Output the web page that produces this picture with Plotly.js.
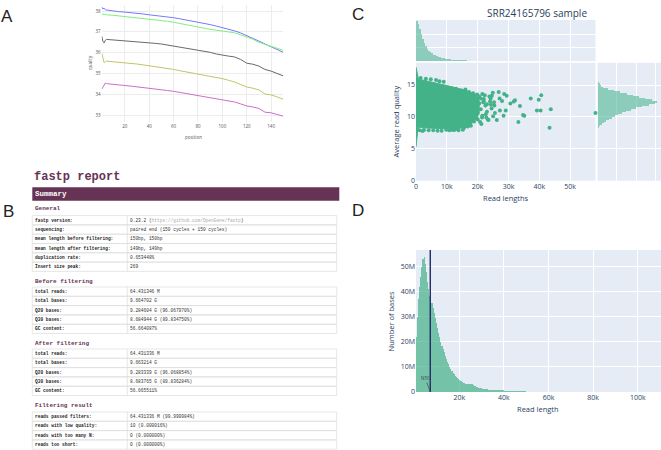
<!DOCTYPE html>
<html><head><meta charset="utf-8">
<script src="https://cdn.plot.ly/plotly-3.0.1.min.js"></script>
<style>html,body{margin:0;padding:0;background:#fff}#chart{width:661px;height:450px}</style>
</head><body><div id="chart"></div>
<script>
// ---------- Panel A : per-position quality ----------
const positions = [1,2,3,4,5,10,15,20,25,30,35,40,45,50,55,60,65,70,75,80,85,90,95,100,105,110,115,120,125,130,135,140,145,150];
const qualG = [38.2,38.1,38.14,38.06,38.05,38.0,37.97,37.95,37.93,37.9,37.86,37.82,37.79,37.76,37.72,37.68,37.63,37.58,37.53,37.47,37.41,37.35,37.28,37.21,37.13,37.05,36.95,36.83,36.7,36.56,36.42,36.28,36.15,36.02];
const qualC = [37.88,37.84,37.85,37.83,37.82,37.8,37.77,37.74,37.72,37.69,37.66,37.62,37.59,37.55,37.51,37.46,37.41,37.36,37.3,37.23,37.18,37.12,37.07,37.04,37.0,36.96,36.86,36.75,36.65,36.5,36.4,36.3,36.2,36.12];
const qualMean = [36.8,36.55,36.47,36.6,36.64,36.62,36.6,36.58,36.55,36.53,36.5,36.48,36.45,36.42,36.37,36.3,36.25,36.22,36.18,36.13,36.07,36.02,35.94,35.88,35.84,35.8,35.68,35.5,35.45,35.36,35.2,35.12,35.0,34.89];
const qualA = [35.98,35.7,35.52,35.58,35.6,35.57,35.55,35.52,35.49,35.46,35.42,35.38,35.34,35.3,35.25,35.2,35.14,35.09,35.04,34.99,34.93,34.88,34.82,34.76,34.68,34.6,34.48,34.36,34.3,34.22,34.02,33.98,33.88,33.77];
const qualT = [34.25,34.35,34.48,34.55,34.52,34.48,34.45,34.43,34.4,34.37,34.34,34.3,34.26,34.23,34.19,34.15,34.1,34.05,34.0,33.95,33.9,33.85,33.8,33.76,33.7,33.64,33.55,33.45,33.4,33.33,33.15,33.12,33.04,32.96];
const qualSeries = [qualG, qualC, qualMean, qualA, qualT];
const qualColors = ['rgb(120,120,250)','rgb(125,240,125)','rgb(105,105,105)','rgb(195,195,105)','rgb(205,110,205)'];

// ---------- Panel B : fastp report ----------
const sectionTitles = ['General','Before filtering','After filtering','Filtering result'];
const generalLabels = ['fastp version:','sequencing:','mean length before filtering:','mean length after filtering:','duplication rate:','Insert size peak:'];
const generalValues = ['0.23.2 (<span style="color:#aaa">https://github.com/OpenGene/fastp</span>)','paired end (150 cycles + 150 cycles)','150bp, 150bp','149bp, 149bp','0.653448%','269'];
const beforeLabels = ['total reads:','total bases:','Q20 bases:','Q30 bases:','GC content:'];
const beforeValues = ['64.431346 M','9.664702 G','9.284604 G (96.067970%)','8.684944 G (89.834750%)','56.664087%'];
const afterLabels = ['total reads:','total bases:','Q20 bases:','Q30 bases:','GC content:'];
const afterValues = ['64.431336 M','9.663214 G','9.283339 G (96.068854%)','8.683765 G (89.836284%)','56.665511%'];
const filterLabels = ['reads passed filters:','reads with low quality:','reads with too many N:','reads too short:'];
const filterValues = ['64.431336 M (99.999984%)','10 (0.000016%)','0 (0.000000%)','0 (0.000000%)'];

// ---------- Panel C : read length vs quality ----------
const cloudLen = [0,300,500,800,2000,4000,6000,8000,10000,12000,14000,16000,18000,19500,20500,20500,19000,17500,16000,14000,12000,10000,8000,6000,4000,2000,800,500,300,150,0];
const cloudQual = [17.8,17.0,16.3,15.9,15.8,15.6,15.4,15.2,14.9,14.7,14.4,14.2,13.8,13.4,12.5,10.5,9.4,8.7,8.3,8.2,8.15,8.15,8.15,8.2,8.25,8.3,8.4,7.6,6.3,5.3,5.3];
const sparseLen = [9600,11000,13000,14500,16000,17200,18500,19800,20500,21500,22300,18500,19000,19500,20000,20500,21000,21500,22000,22500,23000,23500,24000,24500,25000,18800,20800,22800,24200,25400,21800,23800,19200,17500,16500,24600,24900,25300,25600,26200,26800,27100,27200,27900,28400,28600,29100,29400,30600,31700,32100,33200,33700,34700,35100,37200,39200,39800,40400,40600,43300,43700,58200,15200,13800,12500,17800,21200,23300,
  1500,3200,4800,6500,7600,9000,1100,2600,5600,8300,10800,12200,2100,4100,7000,9800,11600,13400,15600,16800,19000,20000,21000,22000,23000,24300,19600,21400,22600];
const sparseQual = [14.4,14.4,14.4,14.2,14.3,13.9,13.7,13.5,13.2,13.6,13.4,12.5,11.5,10.5,9.6,12.1,11.2,10.2,12.8,11.8,10.8,9.5,12.4,11.3,10.1,9.3,9.2,9.9,12.9,11.8,12.3,13.2,12.9,9.1,8.7,13.3,13.8,12.3,10.6,9.5,13.9,12.9,11.0,12.5,10.2,13.6,11.0,13.3,12.1,12.4,12.6,9.2,11.7,10.3,10.2,12.9,11.0,12.7,11.0,13.4,8.3,11.2,10.6,8.0,7.9,8.0,8.6,8.9,9.6,
  16.1,16.0,15.9,15.8,15.6,15.5,7.9,7.95,7.9,7.85,7.9,7.95,7.8,7.9,7.85,8.0,8.0,8.1,8.3,8.5,13.3,12.8,12.9,12.4,12.0,11.9,9.9,9.9,10.4];
const lenBinWidth = 500;
const lenCounts = [3000,2750,2350,2000,1650,1350,1120,930,780,660,560,480,420,370,325,285,250,220,195,172,152,135,120,107,96,86,78,70,62,56,50,45,40,36,32,29,26,23,21,19,17,15,13,12,11,10,9,8,7,6,5,4,3,3,2,2,2,1,1,1];
const qualBinStart = 6.0, qualBinWidth = 0.25;
const qualCounts = [3,4,5,6,8,10,14,20,35,80,150,240,340,450,580,730,880,1050,1250,1450,1700,1980,2300,2650,2950,3050,2800,2450,2150,1800,1500,1150,850,560,300,180,120,90,50,25,10,5];

// ---------- Panel D : bases per read length ----------
const n50 = 7000;
const basesFineStart = 500, basesFineWidth = 500;
const basesFine = [22,30,37,42,46,50,53,54,51,48,44,41,38.5,37,35.5,33.5,31.5,29.5,27.5,25.5,23.5,21.8,20,18.5,17,15.8,14.5,13.2,12,11,10,9.2,8.4,7.7,7,6.4,5.9,5.4,5,4.6,4.3,4,3.7,3.5,3.3,3.2,3.1,3.0,3.0,3.1,3.0,2.8,2.5,2.2,2.0,1.8,1.6,1.5,1.4];
const basesTailStart = 30000, basesTailWidth = 1000;
const basesTail = [1.3,1.2,1.1,1.0,0.95,0.9,0.85,0.8,0.7,0.65,0.6,0.55,0.5,0.45,0.4,0.35,0.3,0.28,0.25,0.22,0.2,0.18,0.16,0.14,0.12,0.1,0.09,0.08,0.07,0.06];

// ---------- helpers ----------
const W = 661, H = 450;
const fx = p => p / W;
const fy = p => 1 - p / H;
const teal = 'rgb(68,178,137)';
const navy = '#2a3f5f';

const traces = [];
qualSeries.forEach((s, i) => traces.push({
  type: 'scatter', mode: 'lines', x: positions, y: s, xaxis: 'x', yaxis: 'y',
  line: {color: qualColors[i], width: 1}, hoverinfo: 'skip'
}));
traces.push({type: 'bar', x: lenCounts.map((_, i) => i * lenBinWidth + lenBinWidth / 2), y: lenCounts,
  width: lenBinWidth, xaxis: 'x2', yaxis: 'y2', marker: {color: teal, opacity: 0.55, line: {width: 0}}});
traces.push({type: 'scatter', mode: 'lines', x: cloudLen, y: cloudQual, fill: 'toself',
  fillcolor: teal, line: {color: teal, width: 1}, xaxis: 'x3', yaxis: 'y3'});
traces.push({type: 'scatter', mode: 'markers', x: sparseLen, y: sparseQual, xaxis: 'x3', yaxis: 'y3',
  marker: {color: teal, size: 4}, cliponaxis: false});
traces.push({type: 'bar', orientation: 'h', y: qualCounts.map((_, i) => qualBinStart + i * qualBinWidth + qualBinWidth / 2),
  x: qualCounts, width: qualBinWidth, xaxis: 'x4', yaxis: 'y4', marker: {color: teal, opacity: 0.55, line: {width: 0}}});
traces.push({type: 'bar', x: basesFine.map((_, i) => basesFineStart + i * basesFineWidth + basesFineWidth / 2),
  y: basesFine.map(v => v * 1e6), width: basesFineWidth, xaxis: 'x5', yaxis: 'y5', marker: {color: teal, opacity: 0.7, line: {width: 0}}});
traces.push({type: 'bar', x: basesTail.map((_, i) => basesTailStart + i * basesTailWidth + basesTailWidth / 2),
  y: basesTail.map(v => v * 1e6), width: basesTailWidth, xaxis: 'x5', yaxis: 'y5', marker: {color: teal, opacity: 0.7, line: {width: 0}}});

const plyTick = {size: 7, color: navy, family: 'Open Sans'};
const aTick = {size: 4.5, color: '#555', family: 'Open Sans'};
const base = {fixedrange: true, zeroline: false, showline: false, ticks: ''};

const layout = {
  width: W, height: H, margin: {l: 0, r: 0, t: 0, b: 0},
  paper_bgcolor: '#fff', plot_bgcolor: 'rgba(0,0,0,0)', showlegend: false,
  font: {family: 'Open Sans', color: navy}, bargap: 0, hovermode: false,
  xaxis: Object.assign({}, base, {domain: [fx(101.7), fx(283.3)], range: [1, 150], tick0: 0, dtick: 20, gridcolor: '#ececec', tickfont: aTick, anchor: 'y'}),
  yaxis: Object.assign({}, base, {domain: [fy(122), fy(5)], range: [32.68, 38.29], tick0: 0, dtick: 1, gridcolor: '#ececec', tickfont: aTick, anchor: 'x'}),
  xaxis2: Object.assign({}, base, {domain: [fx(416), fx(595.5)], range: [0, 58200], dtick: 10000, gridcolor: '#fff', showticklabels: false, anchor: 'y2'}),
  yaxis2: Object.assign({}, base, {domain: [fy(61), fy(20)], range: [0, 3050], dtick: 1000, gridcolor: '#fff', showticklabels: false, anchor: 'x2'}),
  xaxis3: Object.assign({}, base, {domain: [fx(416), fx(595.5)], range: [0, 58200], dtick: 10000, gridcolor: '#fff', tickfont: plyTick, anchor: 'y3'}),
  yaxis3: Object.assign({}, base, {domain: [fy(180.7), fy(62.7)], range: [0, 18.5], dtick: 5, gridcolor: '#fff', tickfont: plyTick, anchor: 'x3'}),
  xaxis4: Object.assign({}, base, {domain: [fx(597.5), 1], range: [0, 3260], dtick: 1000, gridcolor: '#fff', showticklabels: false, anchor: 'y4'}),
  yaxis4: Object.assign({}, base, {domain: [fy(180.7), fy(62.7)], range: [0, 18.5], dtick: 5, gridcolor: '#fff', showticklabels: false, anchor: 'x4'}),
  xaxis5: Object.assign({}, base, {domain: [fx(416), 1], range: [600, 110400], tick0: 0, dtick: 20000, gridcolor: '#fff', tickfont: plyTick, anchor: 'y5'}),
  yaxis5: Object.assign({}, base, {domain: [fy(392), fy(250)], range: [0, 56.7e6], dtick: 10e6, gridcolor: '#fff', tickfont: plyTick, anchor: 'x5'}),
  shapes: [], annotations: []
};

// plot backgrounds of panels C and D
['2','3','4','5'].forEach(k => layout.shapes.push({type: 'rect', xref: 'x' + k + ' domain', yref: 'y' + k + ' domain',
  x0: 0, x1: 1, y0: 0, y1: 1, fillcolor: '#E5ECF6', line: {width: 0}, layer: 'below'}));
// N50 line
layout.shapes.push({type: 'line', xref: 'x5', yref: 'y5 domain', x0: n50, x1: n50, y0: 0, y1: 1, line: {color: '#26336b', width: 1.5}});
layout.annotations.push({xref: 'x5', yref: 'y5', x: n50, y: 0, text: 'N50', showarrow: true, arrowhead: 0,
  arrowwidth: 0.7, arrowcolor: '#444', ax: -5, ay: -14, font: {size: 4.5, color: '#444'}});

const ann = (x, y, text, opt) => layout.annotations.push(Object.assign({xref: 'paper', yref: 'paper', x: fx(x), y: fy(y),
  text: text, showarrow: false, xanchor: 'center', yanchor: 'middle'}, opt || {}));

// panel letters
const letterFont = {family: 'Liberation Sans', size: 17, color: '#222'};
ann(7, 16.5, 'A', {font: letterFont});
ann(8, 212, 'B', {font: letterFont});
ann(358, 15, 'C', {font: letterFont});
ann(358, 210, 'D', {font: letterFont});

// panel A titles
ann(90, 63, 'quality', {textangle: -90, font: {size: 4.5, color: '#555'}});
ann(193.5, 136.7, 'position', {font: {size: 4.5, color: '#555'}});
// panel C titles
ann(537, 13, 'SRR24165796 sample', {font: {size: 10, color: navy}});
ann(395, 121.5, 'Average read quality', {textangle: -90, font: {size: 7.5, color: navy}});
ann(506, 197.7, 'Read lengths', {font: {size: 7.5, color: navy}});
// panel D titles
ann(390, 321.5, 'Number of bases', {textangle: -90, font: {size: 7.5, color: navy}});
ann(538, 409.3, 'Read length', {font: {size: 7.5, color: navy}});

// panel B
const purple = '#663355';
const mono = 'Liberation Mono';
ann(31.5, 176.5, '<b>fastp report</b>', {xanchor: 'left', font: {family: mono, size: 12, color: purple}});
layout.shapes.push({type: 'rect', xref: 'paper', yref: 'paper', x0: fx(32.3), x1: fx(339.3), y0: fy(200.7), y1: fy(187.3), fillcolor: purple, line: {width: 0}});
ann(32.5, 194, '<b>Summary</b>', {xanchor: 'left', font: {family: mono, size: 7.5, color: '#fff'}});

const sections = [
  {labels: generalLabels, values: generalValues, head: 208, top: 215.6},
  {labels: beforeLabels, values: beforeValues, head: 281, top: 287},
  {labels: afterLabels, values: afterValues, head: 343.3, top: 349},
  {labels: filterLabels, values: filterValues, head: 405.7, top: 412}
];
const rowH = 9.3, tL = 32.3, tR = 336.7, tSep = 127.3;
sections.forEach((s, si) => {
  ann(33.3, s.head, '<b>' + sectionTitles[si] + '</b>', {xanchor: 'left', font: {family: mono, size: 6, color: purple}});
  s.labels.forEach((lab, r) => {
    const t = s.top + r * rowH;
    layout.shapes.push({type: 'rect', xref: 'paper', yref: 'paper', x0: fx(tL), x1: fx(tR), y0: fy(t + rowH), y1: fy(t),
      line: {color: '#dddddd', width: 0.7}, fillcolor: 'rgba(0,0,0,0)'});
    ann(33, t + rowH / 2, '<b>' + lab + '</b>', {xanchor: 'left', font: {family: mono, size: 4.5, color: '#222'}});
    ann(128.3, t + rowH / 2, s.values[r], {xanchor: 'left', font: {family: mono, size: 4.5, color: '#333'}});
  });
  layout.shapes.push({type: 'line', xref: 'paper', yref: 'paper', x0: fx(tSep), x1: fx(tSep), y0: fy(s.top), y1: fy(s.top + s.labels.length * rowH),
    line: {color: '#dddddd', width: 0.7}});
});

Plotly.newPlot('chart', traces, layout, {staticPlot: true, displayModeBar: false});
</script>
</body></html>
